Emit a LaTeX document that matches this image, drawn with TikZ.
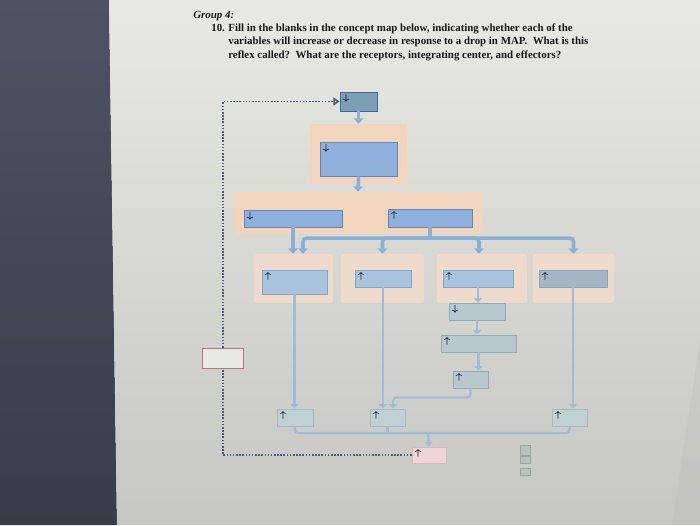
\documentclass[tikz,border=0pt]{standalone}
\usepackage{fontspec}
\newfontfamily\qfont{Liberation Serif}
\usetikzlibrary{arrows.meta, shapes.geometric}
\definecolor{pagetop}{HTML}{E9E9E4}
\definecolor{pagebot}{HTML}{C6C7C2}
\definecolor{bezeltop}{HTML}{4E5262}
\definecolor{bezelbot}{HTML}{393C48}
\definecolor{peach}{HTML}{F1D5BC}
\definecolor{lightpeach}{HTML}{EEDBCC}
\definecolor{tealbox}{HTML}{7C9FB3}
\definecolor{tealedge}{HTML}{3D6CA6}
\definecolor{bluebox}{HTML}{8FB0DB}
\definecolor{blueedge}{HTML}{5E86BA}
\definecolor{skybox}{HTML}{A9C3DF}
\definecolor{skyedge}{HTML}{85A6C8}
\definecolor{slatebox}{HTML}{A7B5C4}
\definecolor{mistbox}{HTML}{B7C9CF}
\definecolor{mistedge}{HTML}{93ABB6}
\definecolor{fadebox}{HTML}{C0D1D3}
\definecolor{fadeedge}{HTML}{A6BCC2}
\definecolor{rosebox}{HTML}{EED5D6}
\definecolor{roseedge}{HTML}{DDB9BF}
\definecolor{redline}{HTML}{BF7083}
\definecolor{flowblue}{HTML}{8BB0D8}
\definecolor{linkblue}{HTML}{9DBEDB}
\definecolor{loopink}{HTML}{4A5B7A}
\definecolor{hintink}{HTML}{1E2A3C}
\definecolor{ghost}{HTML}{B9C3BE}
\tikzset{
  blank/.style={rectangle, inner sep=0pt, line width=0.5pt},
  zone/.style={rectangle, inner sep=0pt, fill=#1, draw=none, rounded corners=1pt},
  hint/.style={label={[anchor=north west, inner sep=1.6pt, font=\fontsize{3.4}{3.4}\selectfont\boldmath, text=hintink]north west:#1}},
  trunk/.style={draw=flowblue, line width=2pt, rounded corners=2pt},
  flow/.style={trunk, -{Triangle[length=3pt,width=5.5pt]}},
  link/.style={draw=linkblue, line width=1.3pt, rounded corners=2pt},
  arrowed/.style={-{Triangle[length=2.5pt,width=4.5pt]}},
  feedback/.style={draw=loopink, line width=1pt, dash pattern=on 0.9pt off 0.9pt},
  qtext/.style={anchor=base west, inner sep=0pt, font=\qfont\bfseries\fontsize{6.2}{7.4}\selectfont, text=black!90}
}
\begin{document}
\begin{tikzpicture}[x={(0.02cm,0)}, y={(0,-0.02cm)}]
  \useasboundingbox (0,0) rectangle (700,525);
  % photo background: screen bezel and page
  \shade[top color=bezeltop, bottom color=bezelbot] (0,0) -- (109,0) -- (117,525) -- (0,525) -- cycle;
  \shade[top color=pagetop, bottom color=pagebot] (109,0) -- (700,0) -- (700,525) -- (117,525) -- cycle;
  \fill[black!25, opacity=0.4] (700,340) -- (700,525) -- (672,525) -- cycle;

  % question
  \node[qtext, font=\qfont\bfseries\itshape\fontsize{6.2}{7.4}\selectfont] (grp) at (193,18) {Group 4:};
  \node[qtext] (num) at (211,31) {10.};
  \node[qtext] (q1) at (228,31) {Fill in the blanks in the concept map below, indicating whether each of the};
  \node[qtext] (q2) at (228,44.5) {variables will increase or decrease in response to a drop in MAP.\ \ What is this};
  \node[qtext] (q3) at (228,58) {reflex called?\ \ What are the receptors, integrating center, and effectors?};

  % shaded groups
  \node[zone=peach, minimum width=1.94cm, minimum height=1.2cm] (reg1) at (358.5,154) {};
  \node[zone=peach, minimum width=4.96cm, minimum height=0.84cm] (reg2) at (358,213) {};
  \node[zone=lightpeach, minimum width=1.58cm, minimum height=0.98cm] (regA) at (293.5,278.5) {};
  \node[zone=lightpeach, minimum width=1.66cm, minimum height=0.98cm] (regB) at (382.5,278.5) {};
  \node[zone=lightpeach, minimum width=1.8cm, minimum height=0.98cm] (regC) at (482,278.5) {};
  \node[zone=lightpeach, minimum width=1.62cm, minimum height=0.98cm] (regD) at (573.5,278.5) {};

  % blanks
  \node[blank, fill=tealbox, draw=tealedge, minimum width=0.74cm, minimum height=0.38cm, hint=$\downarrow$] (top) at (358.5,101.5) {};
  \node[blank, fill=bluebox, draw=blueedge, minimum width=1.54cm, minimum height=0.68cm, hint=$\downarrow$] (big) at (358.5,159) {};
  \node[blank, fill=bluebox, draw=blueedge, minimum width=1.96cm, minimum height=0.34cm, hint=$\downarrow$] (l2l) at (293,218.5) {};
  \node[blank, fill=bluebox, draw=blueedge, minimum width=1.68cm, minimum height=0.36cm, hint=$\uparrow$] (l2r) at (430,218) {};
  \node[blank, fill=skybox, draw=skyedge, minimum width=1.3cm, minimum height=0.48cm, hint=$\uparrow$] (l3a) at (294.5,282) {};
  \node[blank, fill=skybox, draw=skyedge, minimum width=1.12cm, minimum height=0.34cm, hint=$\uparrow$] (l3b) at (383,278.5) {};
  \node[blank, fill=skybox, draw=skyedge, minimum width=1.4cm, minimum height=0.34cm, hint=$\uparrow$] (l3c) at (478,278.5) {};
  \node[blank, fill=slatebox, draw=skyedge, minimum width=1.36cm, minimum height=0.34cm, hint=$\uparrow$] (l3d) at (573,278.5) {};
  \node[blank, fill=mistbox, draw=mistedge, minimum width=1.12cm, minimum height=0.34cm, hint=$\downarrow$] (c2) at (477,311.5) {};
  \node[blank, fill=mistbox, draw=mistedge, minimum width=1.5cm, minimum height=0.34cm, hint=$\uparrow$] (c3) at (478.5,343.5) {};
  \node[blank, fill=mistbox, draw=mistedge, minimum width=0.7cm, minimum height=0.34cm, hint=$\uparrow$] (c4) at (470.5,379.5) {};
  \node[blank, fill=fadebox, draw=fadeedge, minimum width=0.72cm, minimum height=0.34cm, hint=$\uparrow$] (e1) at (295,417.5) {};
  \node[blank, fill=fadebox, draw=fadeedge, minimum width=0.7cm, minimum height=0.34cm, hint=$\uparrow$] (e2) at (387.5,417.5) {};
  \node[blank, fill=fadebox, draw=fadeedge, minimum width=0.7cm, minimum height=0.34cm, hint=$\uparrow$] (e3) at (569.5,417.5) {};
  \node[blank, fill=rosebox, draw=roseedge, minimum width=0.68cm, minimum height=0.32cm, hint=$\uparrow$] (pink) at (429,455) {};
  \node[blank, fill=pagetop, draw=redline, minimum width=0.82cm, minimum height=0.4cm] (ctrl) at (223,358) {};
  \node[blank, fill=ghost, draw=ghost!85!black, minimum width=0.2cm, minimum height=0.2cm] (g1) at (525,450) {};
  \node[blank, fill=ghost, draw=ghost!85!black, minimum width=0.2cm, minimum height=0.14cm] (g2) at (525,459.5) {};
  \node[blank, fill=ghost, draw=ghost!85!black, minimum width=0.2cm, minimum height=0.14cm] (g3) at (525,471.5) {};

  % connectors
  \draw[flow] (top.south) -- (reg1.north);
  \draw[flow] (big.south) -- (reg2.north);
  \draw[flow] (l2l.south) -- (l2l.south |- regA.north);
  \coordinate (fork) at (430,238);
  \draw[trunk] (l2r.south) -- (fork);
  \draw[flow] (fork) -| (303,0 |- regA.north);
  \draw[flow] (fork) -| (regB.north);
  \draw[flow] (fork) -| (479,0 |- regC.north);
  \draw[flow] (fork) -| (regD.north);

  \draw[link, arrowed] (l3a.south) -- (l3a.south |- e1.north);
  \draw[link, arrowed] (l3b.south) -- (l3b.south |- e2.north);
  \draw[link, arrowed] (l3d.south) -- (l3d.south |- e3.north);
  \draw[link, arrowed] (l3c.south) -- (l3c.south |- c2.north);
  \draw[link, arrowed] (c2.south) -- (c2.south |- c3.north);
  \draw[link, arrowed] (c3.south) -- (c3.south |- c4.north);
  \draw[link, arrowed] (c4.south) -- ++(0,9) -| (393,0 |- e2.north);

  \coordinate (merge) at (428,433);
  \draw[link] (e1.south) |- (merge);
  \draw[link] (e3.south) |- (merge);
  \draw[link] (e2.south) -- (e2.south |- merge);
  \draw[link, arrowed] (merge) -- (pink.north);

  % feedback loop
  \draw[feedback] (pink.west) -| (ctrl.south);
  \draw[feedback, -{Triangle[open, length=3.5pt, width=4.5pt]}] (ctrl.north) |- (top.west);
\end{tikzpicture}
\end{document}
